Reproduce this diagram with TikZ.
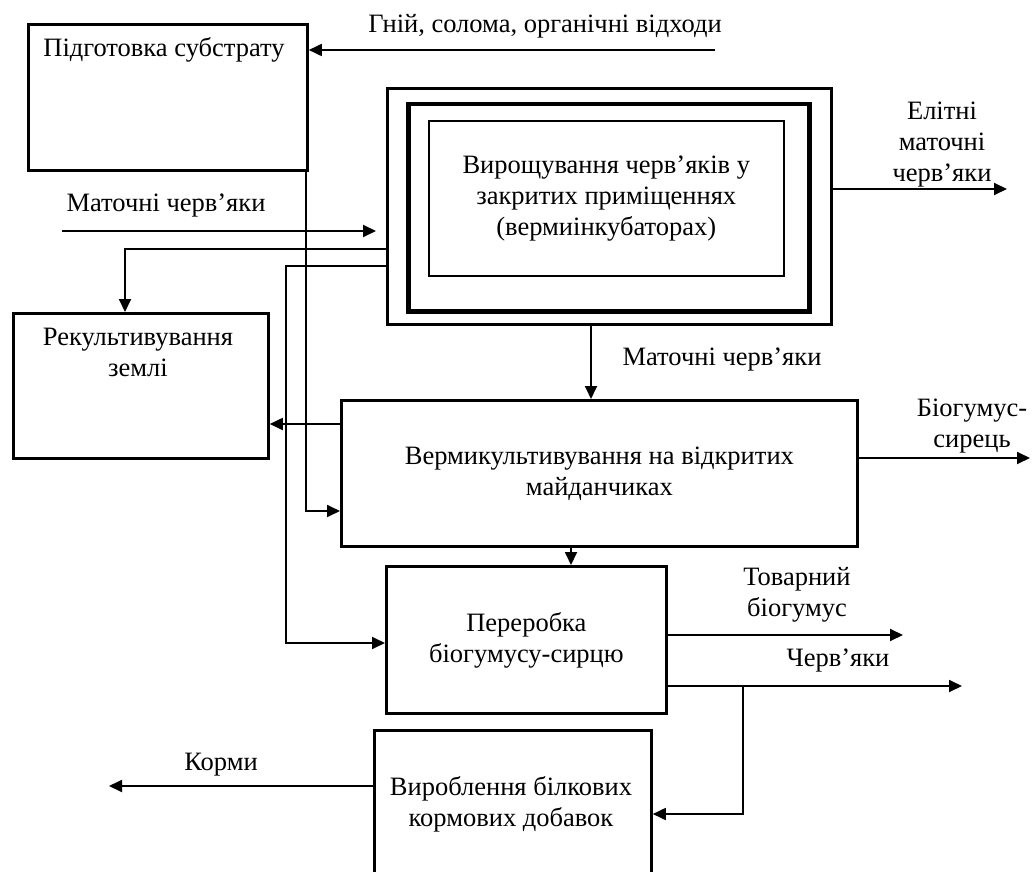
\documentclass[tikz,border=0pt]{standalone}
\usepackage{fontspec}
\setmainfont{Liberation Serif}
\usetikzlibrary{arrows.meta}
\begin{document}
\begin{tikzpicture}[x=1pt,y=-1pt,
  font=\fontsize{26.5}{31}\selectfont,
  box/.style={draw,line width=2.8pt,inner sep=0pt,anchor=north west},
  thinbox/.style={draw,line width=1.6pt,inner sep=0pt,anchor=north west},
  heavybox/.style={draw,line width=4.5pt,inner sep=0pt,anchor=north west},
  txt/.style={align=center,inner sep=0pt},
  conn/.style={line width=1.8pt},
  arr/.style={conn,-{Triangle[length=13pt,width=12pt]}}]
\useasboundingbox (0,0) rectangle (1034,872);
\clip (0,0) rectangle (1034,872);
% boxes
\node[box,minimum width=279pt,minimum height=146pt] (sub) at (27,23) {};
\node[txt] (subt) at (164,50) {Підготовка субстрату};
\node[box,minimum width=444pt,minimum height=236pt] (inc) at (386,87) {};
\node[heavybox,minimum width=401pt,minimum height=207pt] (incm) at (406,102) {};
\node[thinbox,minimum width=355pt,minimum height=155pt,align=center] (inci) at (428,120)
  {Вирощування черв’яків у\\закритих приміщеннях\\(вермиінкубаторах)};
\node[box,minimum width=255pt,minimum height=145pt] (rek) at (12,312) {};
\node[txt] (rekt) at (138,352) {Рекультивування\\землі};
\node[box,minimum width=516pt,minimum height=146pt,align=center] (ver) at (340,399)
  {Вермикультивування на відкритих\\майданчиках};
\node[box,minimum width=280pt,minimum height=147pt,align=center] (per) at (385,565)
  {Переробка\\біогумусу-сирцю};
\node[box,minimum width=277pt,minimum height=170pt] (vyr) at (373,729) {};
\node[txt] (vyrt) at (511,804) {Вироблення білкових\\кормових добавок};
% free ends
\coordinate (gin) at (715,50);
\coordinate (mcin) at (62,231);
\coordinate (mcend) at (376,231);
\coordinate (elite) at (1007,189);
\coordinate (bio) at (1030,458);
\coordinate (tov) at (903,635);
\coordinate (cherv) at (962,686);
\coordinate (br) at (743,686);
\coordinate (korm) at (109,786);
% connectors
\draw[arr] (gin) -- (gin -| sub.east);
\node[txt] (lgin) at (545,26) {Гній, солома, органічні відходи};
\draw[arr] (mcin) -- (mcend);
\node[txt] (lmc) at (166,206) {Маточні черв’яки};
\draw[arr] (inc.west |- 0,249) -| (rek.north -| 125,0);
\draw[arr] (inc.west |- 0,266) -| (286,643) -- (per.west |- 0,643);
\draw[arr] (sub.south -| 306,0) |- (ver.west |- 0,511);
\draw[arr] (ver.west |- 0,424) -- (rek.east |- 0,424);
\draw[arr] (inc.south -| 591,0) -- (ver.north -| 591,0);
\node[txt] (lmc2) at (722,360) {Маточні черв’яки};
\draw[arr] (inc.east |- elite) -- (elite);
\node[txt] (lel) at (942,145) {Елітні\\маточні\\черв’яки};
\draw[arr] (ver.east |- bio) -- (bio);
\node[txt] (lbio) at (972,426) {Біогумус-\\сирець};
\draw[arr] (ver.south -| 571,0) -- (per.north -| 571,0);
\draw[arr] (per.east |- tov) -- (tov);
\node[txt] (ltov) at (797,595) {Товарний\\біогумус};
\draw[arr] (per.east |- cherv) -- (cherv);
\node[txt] (lch) at (838,661) {Черв’яки};
\draw[arr] (br) |- (vyr.east |- 0,814);
\draw[arr] (vyr.west |- korm) -- (korm);
\node[txt] (lkorm) at (221,765) {Корми};
\end{tikzpicture}
\end{document}
